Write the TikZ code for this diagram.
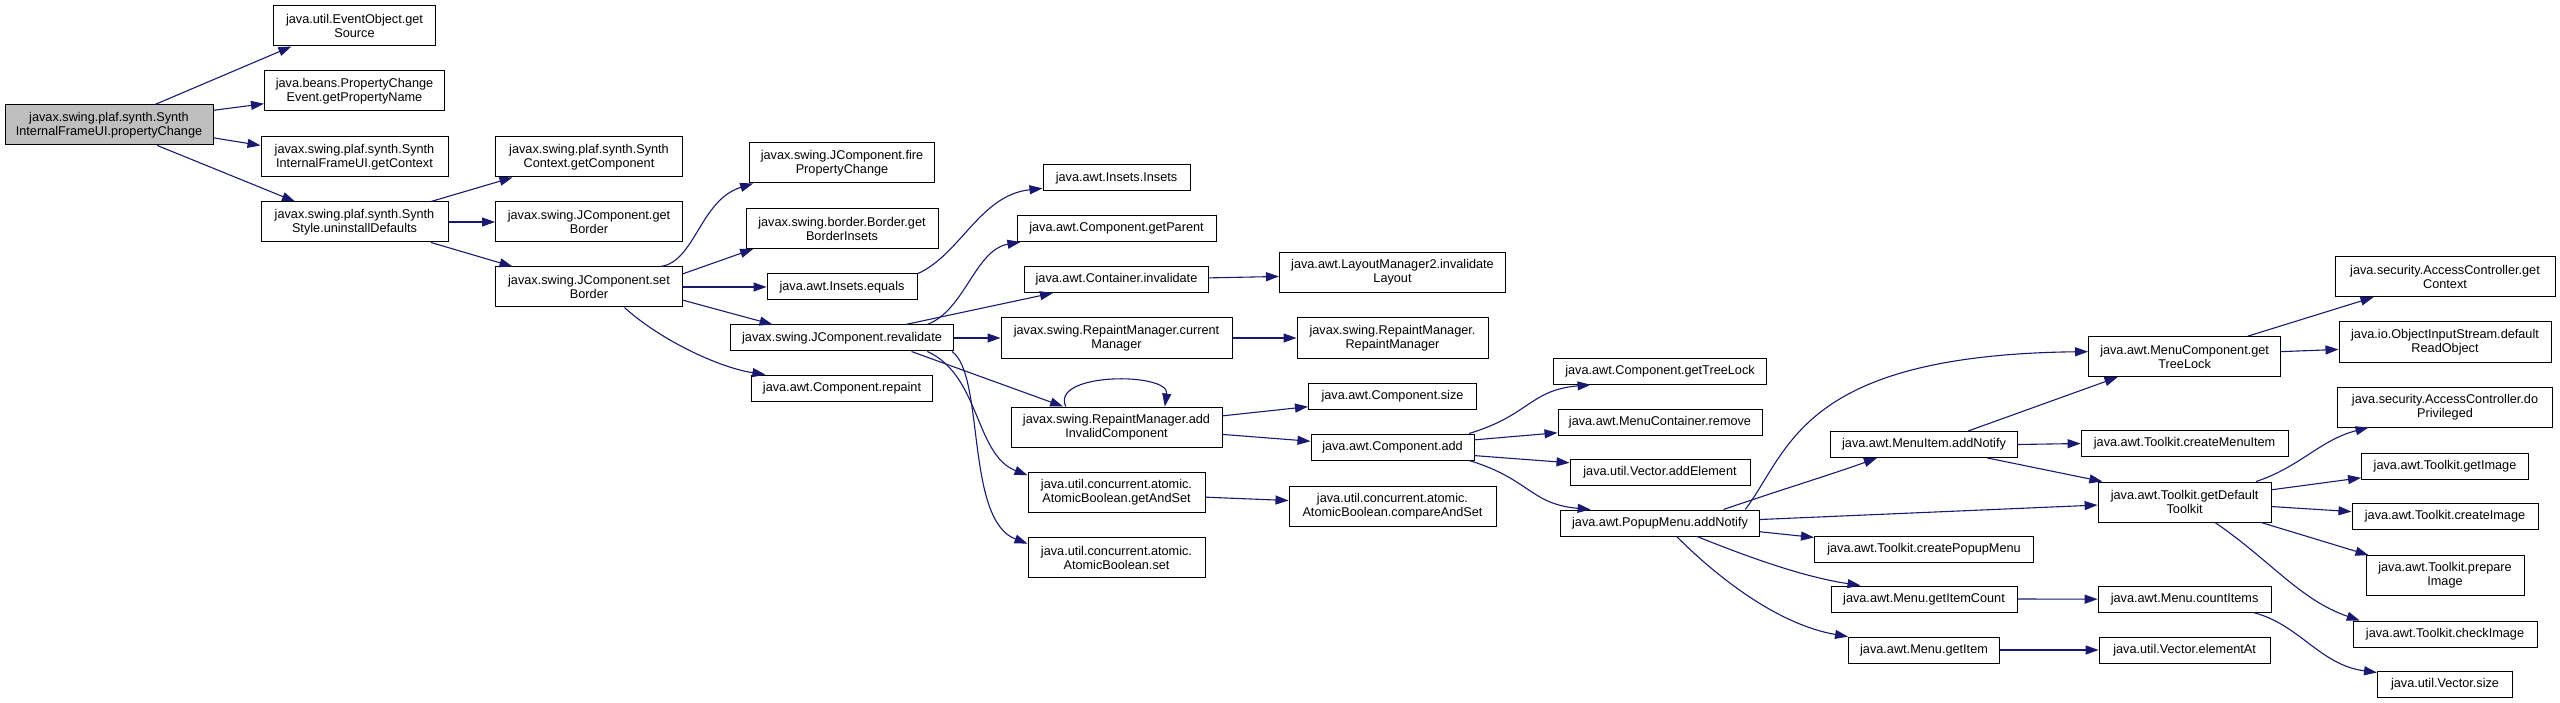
\documentclass[tikz,border=0pt]{standalone}
\usepackage{fontspec}
\setmainfont{Liberation Sans}
\usepackage{tikz}
\usetikzlibrary{arrows.meta,positioning}
\definecolor{Edge}{HTML}{191970}
\definecolor{Focus}{HTML}{BFBFBF}
\newcommand{\callfont}{\fontsize{12.7}{14}\selectfont}
\tikzset{
  fn/.style={draw=black,fill=white,line width=1pt,inner sep=0pt,align=center,font=\callfont,minimum height=26pt},
  two/.style={minimum height=40pt},
  entry/.style={fn,two,fill=Focus},
  call/.style={-{Triangle[length=13pt,width=9pt]},draw=Edge,line width=1.1pt}
}

\begin{document}
\begin{tikzpicture}[x=1pt,y=-1pt]
  \useasboundingbox (0,0) rectangle (2560,703);
  \node[entry,minimum width=208pt] (root) at (109,125) {javax.swing.plaf.synth.Synth\\InternalFrameUI.propertyChange};
  \node[fn,two,minimum width=162pt] (getSource) at (354.5,26) {java.util.EventObject.get\\Source};
  \node[fn,two,minimum width=180pt] (getPropertyName) at (354.5,91) {java.beans.PropertyChange\\Event.getPropertyName};
  \node[fn,two,minimum width=187pt] (getContext) at (354.5,157) {javax.swing.plaf.synth.Synth\\InternalFrameUI.getContext};
  \node[fn,two,minimum width=187pt] (uninstallDefaults) at (354.5,222) {javax.swing.plaf.synth.Synth\\Style.uninstallDefaults};
  \node[fn,two,minimum width=187pt] (ctxGetComponent) at (589,157) {javax.swing.plaf.synth.Synth\\Context.getComponent};
  \node[fn,two,minimum width=187pt] (getBorder) at (589,222) {javax.swing.JComponent.get\\Border};
  \node[fn,two,minimum width=187pt] (setBorder) at (589,287) {javax.swing.JComponent.set\\Border};
  \node[fn,two,minimum width=185pt] (firePropertyChange) at (842,163) {javax.swing.JComponent.fire\\PropertyChange};
  \node[fn,two,minimum width=192pt] (getBorderInsets) at (842,228.5) {javax.swing.border.Border.get\\BorderInsets};
  \node[fn,minimum width=150pt] (insetsEquals) at (842,287) {java.awt.Insets.equals};
  \node[fn,minimum width=223pt] (revalidate) at (842,338) {javax.swing.JComponent.revalidate};
  \node[fn,minimum width=181pt] (repaint) at (842,388) {java.awt.Component.repaint};
  \node[fn,minimum width=147pt] (insets) at (1116.5,178) {java.awt.Insets.Insets};
  \node[fn,minimum width=199pt] (getParent) at (1116.5,228.5) {java.awt.Component.getParent};
  \node[fn,minimum width=184pt] (containerInvalidate) at (1116.5,279.5) {java.awt.Container.invalidate};
  \node[fn,two,minimum width=231pt] (currentManager) at (1116.5,338) {javax.swing.RepaintManager.current\\Manager};
  \node[fn,two,minimum width=211pt] (addInvalid) at (1116.5,427) {javax.swing.RepaintManager.add\\InvalidComponent};
  \node[fn,two,minimum width=177pt] (getAndSet) at (1116.5,492.5) {java.util.concurrent.atomic.\\AtomicBoolean.getAndSet};
  \node[fn,two,minimum width=177pt] (abSet) at (1116.5,557.7) {java.util.concurrent.atomic.\\AtomicBoolean.set};
  \node[fn,two,minimum width=226pt] (invalidateLayout) at (1392.5,272.5) {java.awt.LayoutManager2.invalidate\\Layout};
  \node[fn,two,minimum width=191pt] (rmCtor) at (1392.5,338) {javax.swing.RepaintManager.\\RepaintManager};
  \node[fn,minimum width=168pt] (compSize) at (1392.5,396.3) {java.awt.Component.size};
  \node[fn,minimum width=163pt] (compAdd) at (1392.5,447) {java.awt.Component.add};
  \node[fn,two,minimum width=207pt] (compareAndSet) at (1392.5,506) {java.util.concurrent.atomic.\\AtomicBoolean.compareAndSet};
  \node[fn,minimum width=213pt] (getTreeLock) at (1660,371.3) {java.awt.Component.getTreeLock};
  \node[fn,minimum width=204pt] (menuRemove) at (1660,422) {java.awt.MenuContainer.remove};
  \node[fn,minimum width=180pt] (addElement) at (1660,472.3) {java.util.Vector.addElement};
  \node[fn,minimum width=199pt] (popupAddNotify) at (1660,523) {java.awt.PopupMenu.addNotify};
  \node[fn,minimum width=187pt] (menuItemAddNotify) at (1924,444.5) {java.awt.MenuItem.addNotify};
  \node[fn,minimum width=219pt] (createPopupMenu) at (1924,549) {java.awt.Toolkit.createPopupMenu};
  \node[fn,minimum width=186pt] (getItemCount) at (1924,599) {java.awt.Menu.getItemCount};
  \node[fn,minimum width=151pt] (getItem) at (1924,650) {java.awt.Menu.getItem};
  \node[fn,two,minimum width=192pt] (mcGetTreeLock) at (2184.6,356.7) {java.awt.MenuComponent.get\\TreeLock};
  \node[fn,minimum width=207pt] (createMenuItem) at (2184.6,443.5) {java.awt.Toolkit.createMenuItem};
  \node[fn,two,minimum width=173pt] (getDefaultToolkit) at (2184.6,502) {java.awt.Toolkit.getDefault\\Toolkit};
  \node[fn,minimum width=173pt] (countItems) at (2184.6,599.2) {java.awt.Menu.countItems};
  \node[fn,minimum width=171pt] (elementAt) at (2184.6,650) {java.util.Vector.elementAt};
  \node[fn,two,minimum width=220pt] (acGetContext) at (2445,276.7) {java.security.AccessController.get\\Context};
  \node[fn,two,minimum width=212pt] (defaultReadObject) at (2445,342) {java.io.ObjectInputStream.default\\ReadObject};
  \node[fn,two,minimum width=215pt] (doPrivileged) at (2445,407) {java.security.AccessController.do\\Privileged};
  \node[fn,minimum width=167pt] (getImage) at (2445,466) {java.awt.Toolkit.getImage};
  \node[fn,minimum width=186pt] (createImage) at (2445,516.5) {java.awt.Toolkit.createImage};
  \node[fn,two,minimum width=158pt] (prepareImage) at (2445,575.6) {java.awt.Toolkit.prepare\\Image};
  \node[fn,minimum width=184pt] (checkImage) at (2445,634) {java.awt.Toolkit.checkImage};
  \node[fn,minimum width=135pt] (vectorSize) at (2445,684.5) {java.util.Vector.size};

  \draw[call] (root.24) -- (getSource.198);
  \draw[call] (root.8) -- (getPropertyName.188);
  \draw[call] (root.-7) -- (getContext.173);
  \draw[call] (root.-23) -- (uninstallDefaults.161);
  \draw[call] (uninstallDefaults.15) -- (ctxGetComponent.195);
  \draw[call] (uninstallDefaults.east) -- (getBorder.west);
  \draw[call] (uninstallDefaults.-15) -- (setBorder.165);
  \draw[call] (setBorder.16) .. controls (695,262) and (700,200) .. (firePropertyChange.193);
  \draw[call] (setBorder.8) -- (getBorderInsets.193);
  \draw[call] (setBorder.east) -- (insetsEquals.west);
  \draw[call] (setBorder.-8) -- (revalidate.169);
  \draw[call] (setBorder.-30) .. controls (660,340) and (720,368) .. (repaint.170);
  \draw[call] (insetsEquals.10) .. controls (960,255) and (980,195) .. (insets.188);
  \draw[call] (revalidate.9) .. controls (965,310) and (975,250) .. (getParent.188);
  \draw[call] (revalidate.12) -- (containerInvalidate.192);
  \draw[call] (revalidate.east) -- (currentManager.west);
  \draw[call] (revalidate.-11) -- (addInvalid.159);
  \draw[call] (revalidate.-9) .. controls (980,375) and (975,455) .. (getAndSet.169);
  \draw[call] (revalidate.-7) .. controls (985,375) and (965,520) .. (abSet.171);
  \draw[call] (addInvalid.158) .. controls (1050,372) and (1170,372) .. (addInvalid.23);
  \draw[call] (addInvalid.6) -- (compSize.187);
  \draw[call] (addInvalid.-4) -- (compAdd.176);
  \draw[call] (containerInvalidate.1) -- (invalidateLayout.182);
  \draw[call] (currentManager.east) -- (rmCtor.west);
  \draw[call] (getAndSet.-3) -- (compareAndSet.177);
  \draw[call] (compAdd.10) .. controls (1530,415) and (1530,390) .. (getTreeLock.191);
  \draw[call] (compAdd.5) -- (menuRemove.186);
  \draw[call] (compAdd.-6) -- (addElement.174);
  \draw[call] (compAdd.-10) .. controls (1530,479) and (1530,504) .. (popupAddNotify.169);
  \draw[call] (popupAddNotify.9) .. controls (1790,450) and (1800,355) .. (mcGetTreeLock.177);
  \draw[call] (popupAddNotify.12) .. controls (1780,490) and (1830,475) .. (menuItemAddNotify.196);
  \draw[call] (popupAddNotify.2) -- (getDefaultToolkit.182);
  \draw[call] (popupAddNotify.-5) -- (createPopupMenu.174);
  \draw[call] (popupAddNotify.-20) .. controls (1760,562) and (1810,578) .. (getItemCount.168);
  \draw[call] (popupAddNotify.-39) .. controls (1720,580) and (1780,625) .. (getItem.170);
  \draw[call] (menuItemAddNotify.17) -- (mcGetTreeLock.197);
  \draw[call] (menuItemAddNotify.east) -- (createMenuItem.west);
  \draw[call] (menuItemAddNotify.-12) -- (getDefaultToolkit.166);
  \draw[call] (mcGetTreeLock.18) -- (acGetContext.196);
  \draw[call] (mcGetTreeLock.3) -- (defaultReadObject.184);
  \draw[call] (getDefaultToolkit.16) .. controls (2300,467) and (2320,440) .. (doPrivileged.195);
  \draw[call] (getDefaultToolkit.8) -- (getImage.188);
  \draw[call] (getDefaultToolkit.-3) -- (createImage.177);
  \draw[call] (getDefaultToolkit.-15) -- (prepareImage.165);
  \draw[call] (getDefaultToolkit.-34) .. controls (2270,560) and (2300,600) .. (checkImage.171);
  \draw[call] (getItemCount.east) -- (countItems.west);
  \draw[call] (getItem.east) -- (elementAt.west);
  \draw[call] (countItems.-11) .. controls (2300,625) and (2320,665) .. (vectorSize.170);
\end{tikzpicture}
\end{document}
